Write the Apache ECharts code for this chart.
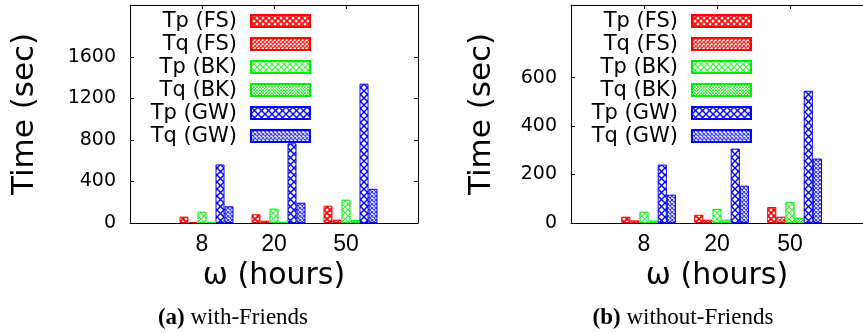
<!DOCTYPE html>
<html>
<head>
<meta charset="utf-8">
<script src="https://cdn.jsdelivr.net/npm/echarts@6/dist/echarts.min.js"></script>
<style>
html, body { margin: 0; padding: 0; background: #fff; }
#main { width: 863px; height: 333px; }
</style>
</head>
<body>
<div id="main"></div>
<script>
// 数据
var hours = ['8', '20', '50'];
var seriesNames = ['Tp (FS)', 'Tq (FS)', 'Tp (BK)', 'Tq (BK)', 'Tp (GW)', 'Tq (GW)'];

// (a) with-Friends
var tpFsA = [61, 84, 167];
var tqFsA = [10, 22, 32];
var tpBkA = [109, 138, 225];
var tqBkA = [12, 12, 30];
var tpGwA = [564, 767, 1342];
var tqGwA = [161, 196, 329];

// (b) without-Friends
var tpFsB = [26, 34, 66];
var tqFsB = [11, 14, 26];
var tpBkB = [47, 58, 87];
var tqBkB = [10, 14, 22];
var tpGwB = [241, 307, 546];
var tqGwB = [117, 154, 266];

var yTicksA = [0, 400, 800, 1200, 1600];
var yTicksB = [0, 200, 400, 600];

var RED = '#ff0000', GREEN = '#00ee00', BLUE = '#0000ff';

// 画填充图案 (仿 gnuplot 的 pattern)
function makePattern(color, size, lw, alpha) {
    var c = document.createElement('canvas');
    c.width = size;
    c.height = size;
    var ctx = c.getContext('2d');
    ctx.fillStyle = '#fff';
    ctx.fillRect(0, 0, size, size);
    ctx.strokeStyle = color;
    ctx.globalAlpha = alpha;
    ctx.lineWidth = lw;
    ctx.beginPath();
    ctx.moveTo(0, 0); ctx.lineTo(size, size);
    ctx.moveTo(size, 0); ctx.lineTo(0, size);
    ctx.stroke();
    return { image: c, repeat: 'repeat' };
}

var styles = [
    { color: RED, fill: makePattern(RED, 6, 1.6, 1) },
    { color: RED, fill: makePattern(RED, 4, 1.2, 0.9) },
    { color: GREEN, fill: makePattern(GREEN, 6, 1.1, 0.8) },
    { color: GREEN, fill: makePattern(GREEN, 3, 0.9, 0.8) },
    { color: BLUE, fill: makePattern(BLUE, 7, 1.4, 1) },
    { color: BLUE, fill: makePattern(BLUE, 4, 1.1, 0.8) }
];

var dataA = [tpFsA, tqFsA, tpBkA, tqBkA, tpGwA, tqGwA];
var dataB = [tpFsB, tqFsB, tpBkB, tqBkB, tpGwB, tqGwB];

var blackLine = { show: true, onZero: false, lineStyle: { color: '#000', width: 1 } };

function makeAxes(g, yMax, yTicks, nameGap, showRight) {
    var xs = [
        {
            gridIndex: g, type: 'value', min: -1, max: 3, position: 'bottom',
            name: 'ω (hours)', nameLocation: 'middle', nameGap: 37,
            nameTextStyle: { fontFamily: 'DejaVu Sans', fontSize: 30, color: '#000' },
            axisLine: blackLine,
            axisTick: { show: false },
            splitLine: { show: false },
            axisLabel: {
                customValues: [0, 1, 2],
                formatter: function (v) { return hours[v]; },
                fontFamily: 'Liberation Sans', fontSize: 23, color: '#000', margin: 10
            }
        },
        {
            gridIndex: g, type: 'value', min: -1, max: 3, position: 'top',
            axisLine: blackLine,
            axisTick: { show: true, inside: true, length: 4, customValues: [0, 1, 2], lineStyle: { color: '#000' } },
            axisLabel: { show: false },
            splitLine: { show: false }
        },
        {
            gridIndex: g, type: 'value', min: -1.0625, max: 2.9375, show: false,
            splitLine: { show: false }
        }
    ];
    var ys = [
        {
            gridIndex: g, type: 'value', min: 0, max: yMax, position: 'left',
            name: 'Time (sec)', nameLocation: 'middle', nameGap: nameGap, nameRotate: 90,
            nameTextStyle: { fontFamily: 'DejaVu Sans', fontSize: 31, color: '#000' },
            axisLine: blackLine,
            axisTick: { show: true, inside: true, length: 4, customValues: yTicks, lineStyle: { color: '#000' } },
            splitLine: { show: false },
            axisLabel: {
                customValues: yTicks,
                formatter: function (v) { return String(v); },
                fontFamily: 'DejaVu Sans', fontSize: 19, color: '#000', margin: 14
            }
        },
        {
            gridIndex: g, type: 'value', min: 0, max: yMax, position: 'right',
            show: showRight,
            axisLine: blackLine,
            axisTick: { show: true, inside: true, length: 4, customValues: yTicks, lineStyle: { color: '#000' } },
            splitLine: { show: false },
            axisLabel: { show: false }
        }
    ];
    return { xs: xs, ys: ys };
}

var axA = makeAxes(0, 2100, yTicksA, 90, true);
// 右图的右边框在画面外
var axB = makeAxes(1, 900, yTicksB, 74, false);

function makeSeries(data, xIdx, yIdx) {
    return data.map(function (vals, j) {
        return {
            name: seriesNames[j],
            type: 'bar',
            xAxisIndex: xIdx,
            yAxisIndex: yIdx,
            barWidth: '12.5%',
            barGap: '0%',
            itemStyle: { color: styles[j].fill, borderColor: styles[j].color, borderWidth: 1 },
            data: vals.map(function (v, i) { return [i, v]; })
        };
    });
}

function makeLegend(right) {
    return {
        orient: 'vertical', align: 'right', right: right, top: 10.6, padding: 0,
        itemWidth: 59, itemHeight: 12, itemGap: 2, icon: 'rect',
        selectedMode: false,
        textStyle: { fontFamily: 'DejaVu Sans', fontSize: 21, color: '#000', padding: [0, 9, 0, 0] },
        data: seriesNames
    };
}

var myChart = echarts.init(document.getElementById('main'));

var option = {
    animation: false,
    backgroundColor: '#fff',
    grid: [
        { left: 130, right: 445, top: 5, bottom: 110 },
        { left: 571, right: -10, top: 5, bottom: 110 }
    ],
    legend: [makeLegend(552), makeLegend(111)],
    xAxis: axA.xs.concat(axB.xs),
    yAxis: axA.ys.concat(axB.ys),
    series: makeSeries(dataA, 2, 0).concat(makeSeries(dataB, 5, 2)),
    graphic: [
        {
            type: 'text', x: 233, y: 318,
            style: {
                text: '{b|(a)} with-Friends', align: 'center', verticalAlign: 'middle',
                font: '23px "Liberation Serif"', fill: '#000',
                rich: { b: { fontWeight: 'bold', fontSize: 23, fontFamily: 'Liberation Serif' } }
            }
        },
        {
            type: 'text', x: 683, y: 318,
            style: {
                text: '{b|(b)} without-Friends', align: 'center', verticalAlign: 'middle',
                font: '23px "Liberation Serif"', fill: '#000',
                rich: { b: { fontWeight: 'bold', fontSize: 23, fontFamily: 'Liberation Serif' } }
            }
        }
    ]
};

option && myChart.setOption(option);
</script>
</body>
</html>
